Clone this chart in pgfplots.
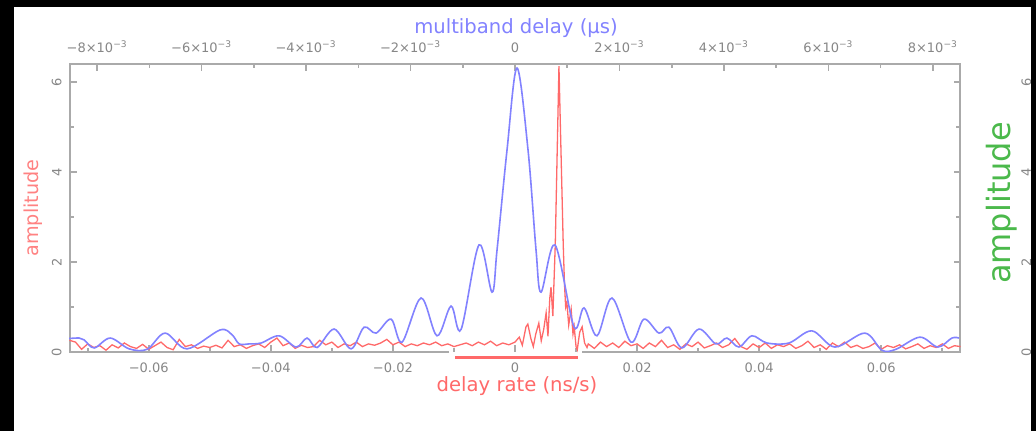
\documentclass[border=0pt]{standalone}
\usepackage{fontspec}
\setmainfont{DejaVu Sans}
\usepackage{pgfplots}
\pgfplotsset{compat=1.18}

\definecolor{axgrey}{RGB}{170,170,170}
\definecolor{lblgrey}{RGB}{135,135,135}
\definecolor{mbblue}{RGB}{130,130,255}
\definecolor{drred}{RGB}{255,105,105}
\definecolor{amppink}{RGB}{255,130,130}
\definecolor{ampgreen}{RGB}{75,185,75}

\pgfplotsset{
  fringeframe/.style={
    at={(35pt,-176pt)}, anchor=south west,
    width=445pt, height=144pt, scale only axis,
    ymin=0, ymax=6.4, clip=false,
    axis line style={draw=none},
    scaled x ticks=false, scaled y ticks=false,
    tick align=inside,
    major tick length=3.25pt, minor tick length=2pt,
    tick style={axgrey, line width=0.8pt},
    ytick={0,2,4,6}, minor ytick={1,3,5},
    yticklabels={0,2,4,6},
    tick label style={font=\fontsize{6.5}{7}\selectfont, text=lblgrey, inner sep=0pt},
  }
}

\begin{document}
\begin{tikzpicture}
\fill[white] (0,0) rectangle (518pt,-215.5pt);

% delay rate (bottom axis), red
\begin{axis}[fringeframe,
  xmin=-0.0729, xmax=0.0729,
  xtick={-0.06,-0.04,-0.02,0,0.02,0.04,0.06},
  minor xtick={-0.07,-0.05,-0.03,-0.01,0.01,0.03,0.05,0.07},
  xticklabels={−0.06,−0.04,−0.02,0,0.02,0.04,0.06},
  xtick pos=left, xticklabel pos=left,
  ytick pos=left, yticklabel pos=left,
  xticklabel style={anchor=north, yshift=-5pt},
  yticklabel style={xshift=-4pt, rotate=90, anchor=south},
]
\draw[axgrey, line width=0.9pt] (axis cs:-0.0108,0) -- (rel axis cs:0,0) -- (rel axis cs:0,1)
  -- (rel axis cs:1,1) -- (rel axis cs:1,0) -- (axis cs:0.0110,0);
\addplot[drred, line width=0.65pt] coordinates {
(-0.073,0.26) (-0.072,0.22) (-0.071,0.06) (-0.070,0.18) (-0.069,0.10) (-0.068,0.14)
(-0.067,0.04) (-0.066,0.16) (-0.065,0.09) (-0.064,0.20) (-0.063,0.12) (-0.062,0.08)
(-0.061,0.17) (-0.060,0.06) (-0.059,0.14) (-0.058,0.22) (-0.057,0.10) (-0.056,0.05)
(-0.055,0.28) (-0.054,0.12) (-0.053,0.16) (-0.052,0.08) (-0.051,0.13) (-0.050,0.10)
(-0.049,0.15) (-0.048,0.09) (-0.047,0.26) (-0.046,0.12) (-0.045,0.16) (-0.044,0.08)
(-0.043,0.14) (-0.042,0.18) (-0.041,0.10) (-0.040,0.22) (-0.039,0.31) (-0.038,0.14)
(-0.037,0.20) (-0.036,0.08) (-0.035,0.15) (-0.034,0.10) (-0.033,0.12) (-0.032,0.26)
(-0.031,0.16) (-0.030,0.22) (-0.029,0.10) (-0.028,0.18) (-0.027,0.14) (-0.026,0.22)
(-0.025,0.12) (-0.024,0.18) (-0.023,0.15) (-0.022,0.20) (-0.021,0.28) (-0.020,0.16)
(-0.019,0.22) (-0.018,0.12) (-0.017,0.18) (-0.016,0.14) (-0.015,0.20) (-0.014,0.16)
(-0.013,0.22) (-0.012,0.14) (-0.011,0.18) (-0.010,0.12) (-0.009,0.16) (-0.008,0.20)
(-0.007,0.14) (-0.006,0.22) (-0.005,0.16) (-0.004,0.24) (-0.003,0.14) (-0.002,0.20)
(-0.001,0.16) (0.000,0.22)
(0.0007,0.33) (0.0012,0.15) (0.0018,0.56) (0.0021,0.62) (0.0026,0.30) (0.0030,0.12)
(0.0034,0.40) (0.0039,0.64) (0.0043,0.25) (0.0047,0.50) (0.0051,0.87) (0.0054,0.35)
(0.0057,1.20) (0.0059,1.44) (0.0062,0.80) (0.0066,2.40) (0.0072,6.35) (0.0079,2.40)
(0.0081,1.53) (0.0083,1.00) (0.0085,1.10) (0.0088,0.60) (0.0092,0.95) (0.0095,0.40)
(0.0097,0.56) (0.0100,0.12) (0.0102,0.05) (0.0106,0.44) (0.0110,0.56) (0.0114,0.20)
(0.0118,0.10)
(0.012,0.18) (0.013,0.08) (0.014,0.22) (0.015,0.12) (0.016,0.20) (0.017,0.10)
(0.018,0.24) (0.019,0.14) (0.020,0.18) (0.021,0.08) (0.022,0.20) (0.023,0.12)
(0.024,0.26) (0.025,0.10) (0.026,0.16) (0.027,0.06) (0.028,0.18) (0.029,0.12)
(0.030,0.22) (0.031,0.09) (0.032,0.14) (0.033,0.20) (0.034,0.10) (0.035,0.16)
(0.036,0.30) (0.037,0.12) (0.038,0.06) (0.039,0.18) (0.040,0.10) (0.041,0.20)
(0.042,0.08) (0.043,0.16) (0.044,0.12) (0.045,0.18) (0.046,0.08) (0.047,0.14)
(0.048,0.24) (0.049,0.10) (0.050,0.16) (0.051,0.06) (0.052,0.20) (0.053,0.12)
(0.054,0.22) (0.055,0.10) (0.056,0.15) (0.057,0.08) (0.058,0.12) (0.059,0.20)
(0.060,0.06) (0.061,0.14) (0.062,0.10) (0.063,0.16) (0.064,0.07) (0.065,0.12)
(0.066,0.18) (0.067,0.08) (0.068,0.14) (0.069,0.10) (0.070,0.18) (0.071,0.08)
(0.072,0.14) (0.073,0.12)
};
% delay-rate search window
\addplot[drred, line width=1.5pt] coordinates {(-0.0098,-0.133) (0.0103,-0.133)};
\end{axis}

% multiband delay (top axis), blue
\begin{axis}[fringeframe,
  xmin=-8.52e-3, xmax=8.52e-3,
  xtick={-8e-3,-6e-3,-4e-3,-2e-3,0,2e-3,4e-3,6e-3,8e-3},
  minor xtick={-7e-3,-5e-3,-3e-3,-1e-3,1e-3,3e-3,5e-3,7e-3},
  xticklabels={−8×10\textsuperscript{−3},−6×10\textsuperscript{−3},−4×10\textsuperscript{−3},−2×10\textsuperscript{−3},0,2×10\textsuperscript{−3},4×10\textsuperscript{−3},6×10\textsuperscript{−3},8×10\textsuperscript{−3}},
  xtick pos=right, xticklabel pos=right,
  ytick pos=right, yticklabel pos=right,
  xticklabel style={anchor=south, yshift=5.5pt},
  yticklabel style={xshift=30.5pt, rotate=90, anchor=north},
]
\addplot[mbblue, line width=0.8pt, smooth, tension=0.55] coordinates {
(-8.536e-3,0.30) (-8.344e-3,0.31) (-8.249e-3,0.27) (-8.057e-3,0.09) (-7.751e-3,0.31)
(-7.388e-3,0.07) (-7.043e-3,0.06) (-6.699e-3,0.42) (-6.278e-3,0.07) (-5.646e-3,0.49)
(-5.416e-3,0.38) (-5.282e-3,0.18) (-5.091e-3,0.18) (-4.861e-3,0.20) (-4.517e-3,0.36)
(-4.191e-3,0.11) (-3.981e-3,0.31) (-3.789e-3,0.10) (-3.464e-3,0.51) (-3.139e-3,0.07)
(-2.890e-3,0.55) (-2.660e-3,0.42) (-2.373e-3,0.73) (-2.163e-3,0.22) (-1.799e-3,1.20)
(-1.493e-3,0.36) (-1.225e-3,1.02) (-1.033e-3,0.50) (-0.689e-3,2.38) (-0.440e-3,1.33)
(-0.344e-3,2.27) (-0.153e-3,4.49) (0.038e-3,6.31) (0.249e-3,4.49) (0.402e-3,2.27)
(0.498e-3,1.33) (0.766e-3,2.38) (1.129e-3,0.56) (1.321e-3,0.98) (1.569e-3,0.36)
(1.856e-3,1.20) (2.220e-3,0.22) (2.469e-3,0.73) (2.756e-3,0.42) (2.947e-3,0.55)
(3.196e-3,0.09) (3.522e-3,0.51) (3.847e-3,0.18) (4.057e-3,0.31) (4.287e-3,0.11)
(4.536e-3,0.36) (4.823e-3,0.20) (5.244e-3,0.20) (5.684e-3,0.47) (6.124e-3,0.11)
(6.699e-3,0.42) (7.024e-3,0.04) (7.292e-3,0.06) (7.751e-3,0.33) (8.096e-3,0.11)
(8.364e-3,0.31) (8.498e-3,0.31)
};
\end{axis}

\node[mbblue, font=\fontsize{9.8}{11}\selectfont] at (258pt,-14pt) {multiband delay (µs)};
\node[drred, font=\fontsize{9.8}{11}\selectfont] at (258.5pt,-193pt) {delay rate (ns/s)};
\node[amppink, rotate=90, font=\fontsize{9.6}{11}\selectfont] at (16.5pt,-104pt) {amplitude};
\node[ampgreen, rotate=90, font=\fontsize{16}{18}\selectfont] at (501pt,-101.5pt) {amplitude};

\fill[black] (0,0) rectangle (518pt,-3.5pt);
\fill[black] (0,0) rectangle (7pt,-215.5pt);
\fill[black] (515.5pt,0) rectangle (518pt,-215.5pt);
\pgfresetboundingbox
\path (0,0) rectangle (518pt,-215.5pt);
\end{tikzpicture}
\end{document}
